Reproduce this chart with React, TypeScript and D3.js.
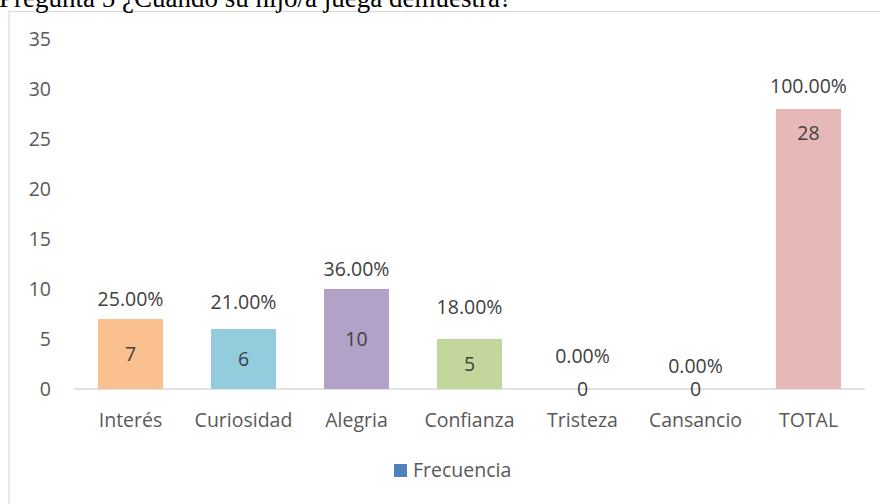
import React from "react";
import * as d3 from "d3";

const categories = ["Interés", "Curiosidad", "Alegria", "Confianza", "Tristeza", "Cansancio", "TOTAL"];
const values = [7, 6, 10, 5, 0, 0, 28];
const percents = ["25.00%", "21.00%", "36.00%", "18.00%", "0.00%", "0.00%", "100.00%"];
const barColors = ["#FAC090", "#93CDDD", "#B3A2C7", "#C3D69B", "#4F81BD", "#4F81BD", "#E6B9B8"];
const yTicks = [0, 5, 10, 15, 20, 25, 30, 35];
const title = "Pregunta 5 ¿Cuando su hijo/a juega demuestra?";
const seriesName = "Frecuencia";

// label layout (pixel offsets, hand-placed in the original)
const pctOffsets = [20, 27, 20, 32, 33, 23, 23];
const valOffsetsTop = [null, null, null, null, null, null, 24];

const W = 880, H = 504;
const FONT = "'Open Sans', sans-serif";
const FS = 19.5;

export default function App() {
  const x = d3.scaleBand<string>().domain(categories).range([74, 865]).paddingInner(0.425).paddingOuter(0.2125);
  const y = d3.scaleLinear().domain([0, 35]).range([389, 39]);
  return (
    <svg width={W} height={H} style={{ position: "absolute", left: 0, top: 0, background: "#fff" }}>
      <rect x={9} y={11.5} width={W} height={H} fill="#fff" stroke="#D9D9D9" strokeWidth={1.2} />
      <text x={-1} y={7} fontFamily="'Liberation Serif', 'Times New Roman', serif" fontSize={27} fill="#000">{title}</text>
      {yTicks.map(t => (
        <text key={t} x={51} y={y(t)} dy="0.35em" textAnchor="end" fontFamily={FONT} fontSize={FS} fill="#595959">{t}</text>
      ))}
      <line x1={74} x2={865} y1={y(0)} y2={y(0)} stroke="#D9D9D9" strokeWidth={1.5} />
      {categories.map((c, i) => {
        const x0 = x(c)!;
        const bw = x.bandwidth();
        const cx = x0 + bw / 2;
        const top = y(values[i]);
        const valY = valOffsetsTop[i] != null ? top + (valOffsetsTop[i] as number) : (top + y(0)) / 2;
        return (
          <g key={c}>
            {values[i] > 0 && <rect x={x0} y={top} width={bw} height={y(0) - top} fill={barColors[i]} />}
            <text x={cx} y={valY} dy="0.35em" textAnchor="middle" fontFamily={FONT} fontSize={FS} fill="#404040">{values[i]}</text>
            <text x={cx} y={top - pctOffsets[i]} dy="0.35em" textAnchor="middle" fontFamily={FONT} fontSize={FS} fill="#404040">{percents[i]}</text>
            <text x={cx} y={420} dy="0.35em" textAnchor="middle" fontFamily={FONT} fontSize={FS} fill="#595959">{c}</text>
          </g>
        );
      })}
      <rect x={394} y={464} width={13} height={13} fill="#4F81BD" />
      <text x={413} y={470.5} dy="0.35em" fontFamily={FONT} fontSize={FS} fill="#595959">{seriesName}</text>
    </svg>
  );
}
